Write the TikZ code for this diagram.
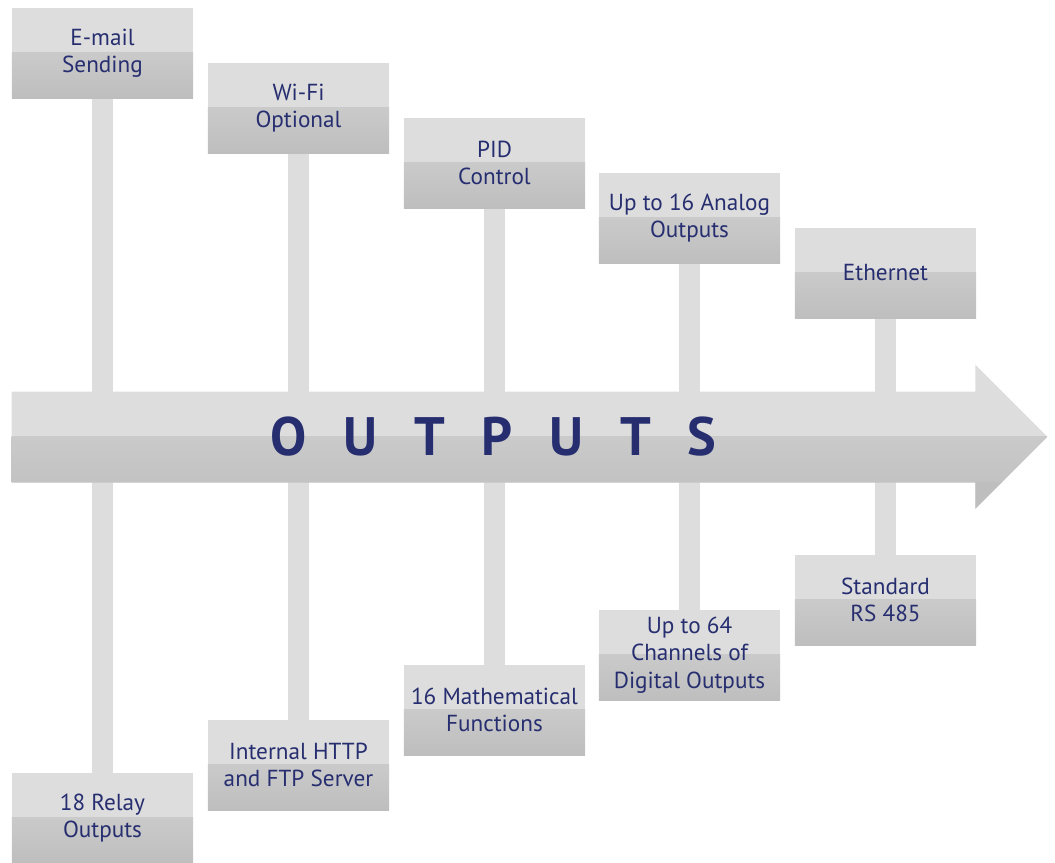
\documentclass[tikz,border=0pt]{standalone}
\usepackage{fontspec}
\setmainfont{PT Sans}
\usetikzlibrary{positioning, backgrounds}
\definecolor{navy}{RGB}{38,46,112}
\definecolor{panel}{RGB}{221,221,221}
\definecolor{panelmid}{RGB}{214,214,214}
\definecolor{paneldark}{RGB}{190,190,190}

\begin{document}
\begin{tikzpicture}[
  x=0.025cm, y=0.025cm,
  box/.style={minimum width=4.525cm, minimum height=2.25cm, inner sep=0,
    align=center, text=navy, fill=panel,
    font=\fontsize{16.5}{19.5}\selectfont,
    path picture={\shade[top color=panelmid, bottom color=paneldark]
      (path picture bounding box.west) rectangle (path picture bounding box.south east);}},
  post/.style={draw=panel, line width=0.525cm}
]
\useasboundingbox (0,0) rectangle (1055,863);

% the main arrow
\node [minimum width=24.075cm, minimum height=2.25cm, inner sep=0, text=navy,
  font=\fontsize{38.5}{40}\selectfont\bfseries\addfontfeatures{LetterSpace=68}] (bar) at (493.5,426) {OUTPUTS};

% top row
\node [box] (email)    at (102.5,810) {E-mail\\Sending};
\node [box] (wifi)     at (298.5,755) {Wi-Fi\\Optional};
\node [box] (pid)      at (494.5,700) {PID\\Control};
\node [box] (analog)   at (689.5,645) {Up to 16 Analog\\Outputs};
\node [box] (ethernet) at (885.5,590) {Ethernet};

% bottom row
\node [box] (relay)   at (102.5,45)  {18 Relay\\Outputs};
\node [box] (http)    at (298.5,98)  {Internal HTTP\\and FTP Server};
\node [box] (math)    at (494.5,153) {16 Mathematical\\Functions};
\node [box] (digital) at (689.5,208) {Up to 64\\Channels of\\Digital Outputs};
\node [box] (rs)      at (885.5,263) {Standard\\RS 485};

\begin{scope}[on background layer]
\draw [post] (email.center) -- (email |- bar.center);
\draw [post] (wifi.center) -- (wifi |- bar.center);
\draw [post] (pid.center) -- (pid |- bar.center);
\draw [post] (analog.center) -- (analog |- bar.center);
\draw [post] (ethernet.center) -- (ethernet |- bar.center);
\draw [post] (relay.center) -- (relay |- bar.center);
\draw [post] (http.center) -- (http |- bar.center);
\draw [post] (math.center) -- (math |- bar.center);
\draw [post] (digital.center) -- (digital |- bar.center);
\draw [post] (rs.center) -- (rs |- bar.center);

\fill [panel, path picture={
    \shade[top color=panelmid, bottom color=paneldark]
      (bar.west -| path picture bounding box.west) rectangle (bar.south -| path picture bounding box.east);
    \fill[paneldark] (bar.south -| path picture bounding box.west) rectangle (path picture bounding box.south east);}]
  (bar.south west) -- (bar.north west) -- (bar.north east) -- ++(0,27)
  -- ++(72,-72) -- ++(-72,-72) -- (bar.south east) -- cycle;
\end{scope}

\end{tikzpicture}
\end{document}
